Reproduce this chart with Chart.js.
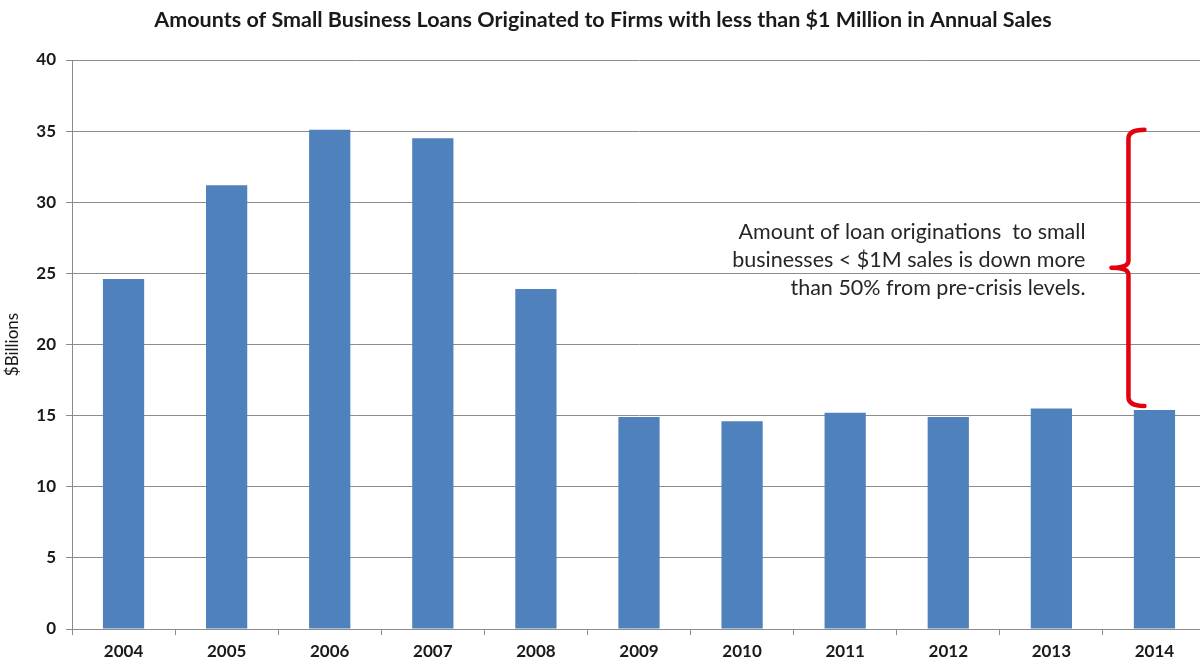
<!DOCTYPE html>
<html>
<head>
<meta charset="utf-8">
<title>Small Business Loans</title>
<script src="https://cdn.jsdelivr.net/npm/chart.js@4.4.1/dist/chart.umd.min.js"></script>
<style>
  html, body {
    margin: 0;
    padding: 0;
    background: #ffffff;
    overflow: hidden;
  }
  #wrap {
    width: 1206px;
    height: 664px;
  }
</style>
</head>
<body>
<div id="wrap">
  <canvas id="loans-chart" width="1206" height="664"></canvas>
</div>
<script>
// Chart data
const years = ["2004", "2005", "2006", "2007", "2008", "2009", "2010", "2011", "2012", "2013", "2014"];
const loanAmounts = [24.6, 31.2, 35.1, 34.5, 23.9, 14.9, 14.6, 15.2, 14.9, 15.5, 15.4];
const yTicks = [0, 5, 10, 15, 20, 25, 30, 35, 40];
const noteLines = [
  "Amount of loan originations  to small",
  "businesses < $1M sales is down more",
  "than 50% from pre-crisis levels.",
];

const fontFamily = "Lato, 'Liberation Sans', sans-serif";
const gridColor = "#8c8c8c";

// Red brace from the peak down to the latest year, with the note beside it
const bracePlugin = {
  id: "brace",
  afterDatasetsDraw(chart) {
    const ctx = chart.ctx;
    const xs = chart.scales.x;
    const ys = chart.scales.y;
    const last = loanAmounts.length - 1;

    const x = xs.getPixelForValue(last) - 26;
    const top = ys.getPixelForValue(Math.max(...loanAmounts));
    const bottom = ys.getPixelForValue(loanAmounts[last]) - 4;
    const mid = (top + bottom) / 2;

    ctx.save();
    ctx.strokeStyle = "#e3000f";
    ctx.lineWidth = 4.5;
    ctx.lineJoin = "round";
    ctx.lineCap = "round";
    ctx.beginPath();
    ctx.moveTo(x + 16, top);
    ctx.quadraticCurveTo(x, top, x, top + 9);
    ctx.lineTo(x, mid - 7);
    ctx.quadraticCurveTo(x, mid, x - 17, mid);
    ctx.quadraticCurveTo(x, mid, x, mid + 7);
    ctx.lineTo(x, bottom - 9);
    ctx.quadraticCurveTo(x, bottom, x + 16, bottom);
    ctx.stroke();

    ctx.fillStyle = "#262626";
    ctx.font = "21.5px " + fontFamily;
    ctx.textAlign = "right";
    ctx.textBaseline = "middle";
    const lineGap = 28;
    const textMid = mid - 8;
    noteLines.forEach((line, i) => {
      ctx.fillText(line, x - 43, textMid + (i - 1) * lineGap);
    });
    ctx.restore();
  },
};

const ctx = document.getElementById("loans-chart");

new Chart(ctx, {
  type: "bar",
  data: {
    labels: years,
    datasets: [
      {
        label: "$Billions",
        data: loanAmounts,
        backgroundColor: "#4f81bd",
        borderWidth: 0,
        categoryPercentage: 1,
        barPercentage: 0.4,
      },
    ],
  },
  options: {
    responsive: false,
    animation: false,
    layout: {
      padding: { left: 0, right: 0, top: 0, bottom: 0 },
    },
    plugins: {
      legend: { display: false },
      tooltip: { enabled: false },
      title: {
        display: true,
        text: "Amounts of Small Business Loans Originated to Firms with less than $1 Million in Annual Sales",
        color: "#1a1a1a",
        font: { family: fontFamily, size: 21.5, weight: "bold", lineHeight: 1.2 },
        padding: { top: 7, bottom: 27.2 },
      },
    },
    scales: {
      x: {
        grid: {
          display: true,
          offset: true,
          drawOnChartArea: false,
          drawTicks: true,
          tickLength: 6,
          color: gridColor,
        },
        border: { color: gridColor, width: 1 },
        ticks: {
          color: "#1a1a1a",
          padding: 6,
          font: { family: fontFamily, size: 17, weight: "bold" },
        },
        afterFit(scale) {
          scale.height = 35;
        },
      },
      y: {
        min: 0,
        max: 40,
        afterBuildTicks(scale) {
          scale.ticks = yTicks.map((v) => ({ value: v }));
        },
        grid: {
          color: gridColor,
          drawTicks: true,
          tickLength: 6,
        },
        border: { color: gridColor, width: 1 },
        ticks: {
          color: "#1a1a1a",
          padding: 10,
          font: { family: fontFamily, size: 17, weight: "bold" },
        },
        title: {
          display: true,
          text: "$Billions",
          color: "#1a1a1a",
          font: { family: fontFamily, size: 17 },
          padding: { top: 2, bottom: 0 },
        },
        afterFit(scale) {
          scale.width = 72;
        },
      },
    },
  },
  plugins: [bracePlugin],
});
</script>
</body>
</html>
